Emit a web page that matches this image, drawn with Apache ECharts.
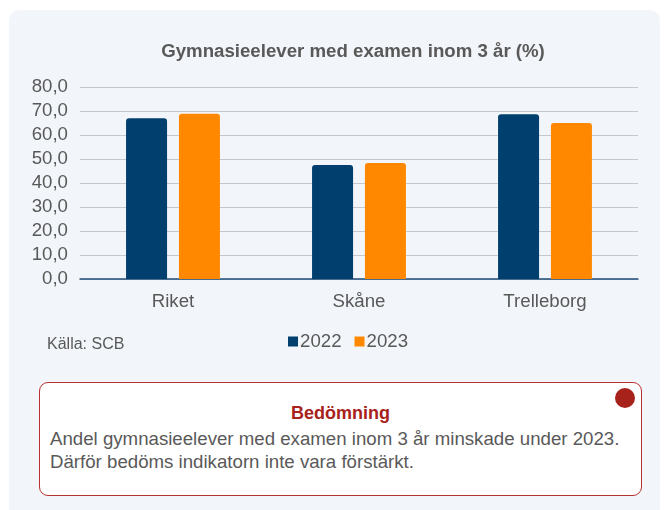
<!DOCTYPE html>
<html>
<head>
<meta charset="utf-8">
<script src="https://cdn.jsdelivr.net/npm/echarts@6/dist/echarts.min.js"></script>
<style>
  html, body { margin: 0; padding: 0; background: #fff; }
  body { width: 667px; height: 510px; position: relative; overflow: hidden; font-family: "Liberation Sans", Arial, sans-serif; }
  #panel { position: absolute; left: 9px; top: 10px; width: 651px; height: 520px; background: #f2f5f9; border-radius: 10px; }
  #chart { position: absolute; left: 0; top: 0; width: 667px; height: 370px; }
  #box { position: absolute; left: 39px; top: 382px; width: 603px; height: 114px; background: #fff; border: 1.5px solid #b8312f; border-radius: 9px; box-sizing: border-box; color: #595959; }
  #box .dot { position: absolute; right: 6px; top: 5px; width: 20px; height: 20px; border-radius: 50%; background: #a8221c; }
  #box .head { text-align: center; color: #a8221c; font-weight: bold; font-size: 18px; line-height: 22px; margin-top: 19px; }
  #box .body { font-size: 18.67px; line-height: 23px; margin: 3px 0 0 10px; }
</style>
</head>
<body>
<div id="panel"></div>
<div id="chart"></div>
<div id="box">
  <div class="dot"></div>
  <div class="head">Bedömning</div>
  <div class="body">Andel gymnasieelever med examen inom 3 år minskade under 2023.<br>Därför bedöms indikatorn inte vara förstärkt.</div>
</div>
<script>
var categories = ['Riket', 'Skåne', 'Trelleborg'];
var years = ['2022', '2023'];
var values2022 = [67.0, 47.5, 68.6];
var values2023 = [68.9, 48.3, 65.0];

var grey = '#595959';
var chart = echarts.init(document.getElementById('chart'));
chart.setOption({
  animation: false,
  textStyle: { fontFamily: 'Liberation Sans, Arial, sans-serif' },
  title: {
    text: 'Gymnasieelever med examen inom 3 år (%)',
    left: 348, top: 37, textAlign: 'center',
    textStyle: { fontSize: 18.67, fontWeight: 'bold', color: grey }
  },
  legend: {
    data: years,
    left: 283, top: 327,
    itemWidth: 10, itemHeight: 10, itemGap: 13,
    icon: 'rect',
    textStyle: { fontSize: 18.67, color: grey, padding: [0, 0, 0, -3] }
  },
  graphic: [{
    type: 'text', left: 47, top: 337,
    style: { text: 'Källa: SCB', fontSize: 16, fill: grey, fontFamily: 'Liberation Sans, Arial, sans-serif' }
  }],
  grid: { left: 80, right: 29, top: 87, bottom: 91 },
  xAxis: {
    type: 'category',
    data: categories,
    axisTick: { show: false },
    axisLine: { lineStyle: { color: '#1f4e79', width: 1.5 } },
    axisLabel: { fontSize: 18.67, color: grey, margin: 13 }
  },
  yAxis: {
    type: 'value',
    min: 0, max: 80, interval: 10,
    axisLabel: {
      fontSize: 18.67, color: grey, margin: 12,
      formatter: function (v) { return v.toFixed(1).replace('.', ','); }
    },
    splitLine: { lineStyle: { color: '#c4c7cc' } },
    axisLine: { show: false },
    axisTick: { show: false }
  },
  series: [{
    name: '2022', type: 'bar', data: values2022,
    barWidth: 41, barGap: '29%',
    itemStyle: { color: '#003f6e', borderRadius: [3, 3, 0, 0] }
  }, {
    name: '2023', type: 'bar', data: values2023,
    barWidth: 41,
    itemStyle: { color: '#ff8800', borderRadius: [3, 3, 0, 0] }
  }]
});
</script>
</body>
</html>
